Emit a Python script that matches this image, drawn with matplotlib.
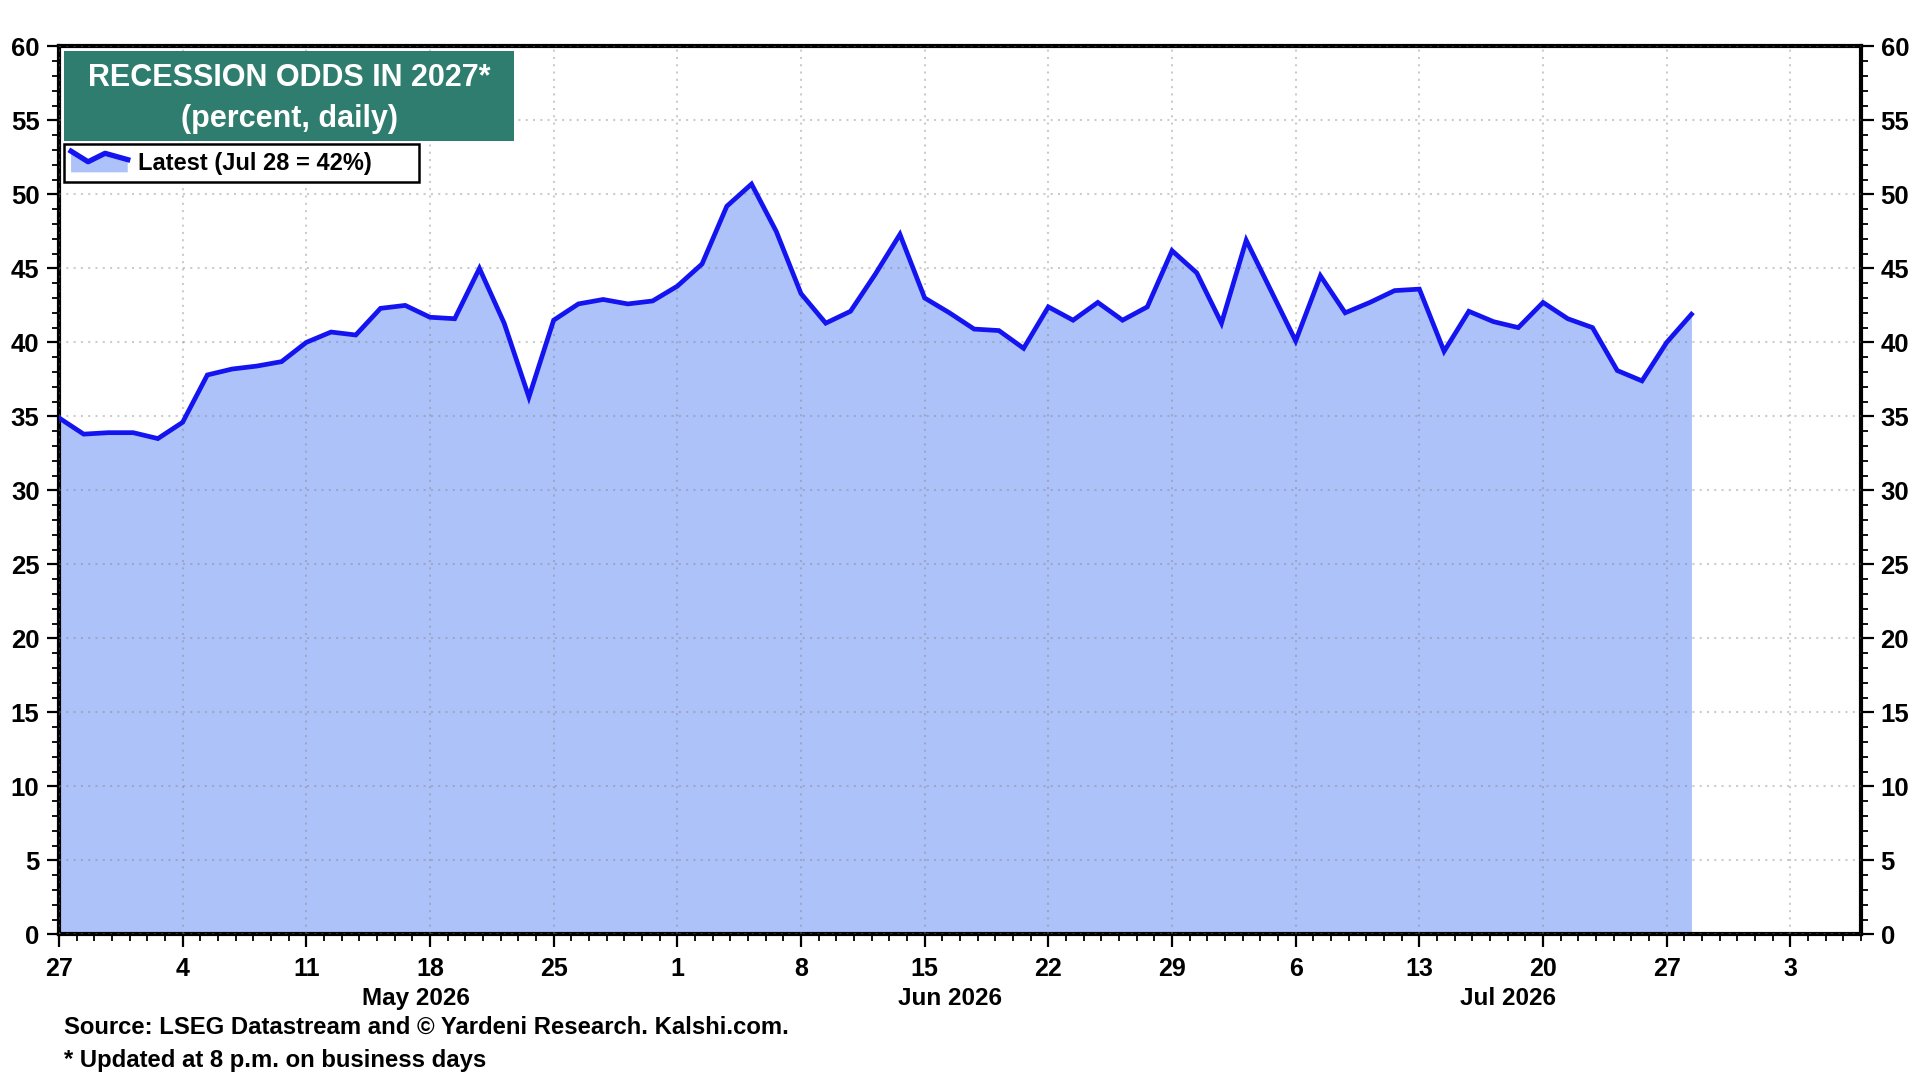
import numpy as np
import pandas as pd
import matplotlib
matplotlib.use('Agg')
import matplotlib.pyplot as plt
import matplotlib.dates as mdates
from matplotlib.legend_handler import HandlerBase
from matplotlib.lines import Line2D
from matplotlib.patches import Polygon, Rectangle
from datetime import datetime

# daily recession odds, business days Apr 27 - Jul 28 2026
days = pd.bdate_range('2026-04-27', '2026-07-28')
odds = [34.9, 33.8, 33.9, 33.9, 33.5,
        34.6, 37.8, 38.2, 38.4, 38.7,
        40.0, 40.7, 40.5, 42.3, 42.5,
        41.7, 41.6, 45.0, 41.3, 36.3,
        41.5, 42.6, 42.9, 42.6, 42.8,
        43.8, 45.3, 49.2, 50.7, 47.5,
        43.3, 41.3, 42.1, 44.6, 47.3,
        43.0, 42.0, 40.9, 40.8, 39.6,
        42.4, 41.5, 42.7, 41.5, 42.4,
        46.2, 44.7, 41.3, 46.9, 43.5,
        40.1, 44.5, 42.0, 42.7, 43.5,
        43.6, 39.4, 42.1, 41.4, 41.0,
        42.7, 41.6, 41.0, 38.1, 37.4,
        40.0, 41.9]
yticks = list(range(0, 61, 5))
months = ['May 2026', 'Jun 2026', 'Jul 2026']
month_pos = ['2026-05-17 05:00', '2026-06-16 10:00', '2026-07-18 00:00']
title = 'RECESSION ODDS IN 2027*\n(percent, daily)'
legend_label = 'Latest (Jul 28 = 42%)'
source = 'Source: LSEG Datastream and \u00a9 Yardeni Research. Kalshi.com.'
note = '* Updated at 8 p.m. on business days'

LINE = '#1414f0'
FILL = '#aec2fa'
TEAL = '#2f7d6e'
FONT = 'Liberation Sans'

plt.rcParams['font.family'] = FONT
plt.rcParams['font.weight'] = 'bold'

# each week of 5 business days is spread evenly over 7 calendar days
monday = days - pd.to_timedelta(days.weekday, unit='D')
x = mdates.date2num(monday.to_pydatetime()) + days.weekday * 7 / 5


class ZigZagHandler(HandlerBase):
    def create_artists(self, legend, orig, xd, yd, w, h, fontsize, trans):
        xs = np.array([0.0, 0.3, 0.6, 1.0]) * w - xd
        ys = np.array([1.0, 0.5, 0.9, 0.6]) * h - yd
        pts = list(zip(xs, ys)) + [(xs[-1], -yd), (xs[0], -yd)]
        poly = Polygon(pts, closed=True, fc=FILL, ec='none', transform=trans)
        ln = Line2D(xs, ys, color=LINE, lw=3.8, transform=trans)
        return [poly, ln]


fig = plt.figure(figsize=(19.2, 10.8), dpi=100)
ax = fig.add_axes([0.0307, 0.1349, 0.9386, 0.8221])

ax.fill_between(x, 0, odds, color=FILL, lw=0, zorder=1)
ax.plot(x, odds, color=LINE, lw=3.4, zorder=3, solid_joinstyle='miter')

ax.set_xlim(mdates.date2num(datetime(2026, 4, 27)), mdates.date2num(datetime(2026, 8, 7)))
ax.set_ylim(0, 60)
ax.set_yticks(yticks)
ax.yaxis.set_minor_locator(plt.MultipleLocator(1))
ax.xaxis.set_major_locator(mdates.WeekdayLocator(byweekday=mdates.MO))
ax.xaxis.set_minor_locator(mdates.DayLocator())
ax.xaxis.set_major_formatter(plt.FuncFormatter(lambda v, p: str(mdates.num2date(v).day)))

ax.tick_params(axis='y', which='both', left=True, right=True, labelleft=True, labelright=True,
               direction='out', labelsize=18.5, pad=5)
ax.tick_params(axis='x', which='both', direction='out', labelsize=18, pad=7)
ax.tick_params(which='major', length=9, width=1.6)
ax.tick_params(which='minor', length=5, width=1.3)
for s in ax.spines.values():
    s.set_linewidth(3)
    s.set_color('black')

ax.set_axisbelow(False)
ax.grid(True, which='major', color='gray', alpha=0.4, lw=1.5, ls=(0, (1, 2.5)))

for lab, pos in zip(months, month_pos):
    ax.text(mdates.date2num(pd.Timestamp(pos).to_pydatetime()), -0.0725, lab,
            transform=ax.get_xaxis_transform(), ha='center', va='center', fontsize=17.5)

# title box
ax.add_patch(Rectangle((0.0028, 0.8936), 0.2497, 0.1014, transform=ax.transAxes,
                       fc=TEAL, ec='none', zorder=5))
ax.text(0.1277, 0.9415, title, transform=ax.transAxes, ha='center', va='center',
        color='white', fontsize=22, linespacing=1.5, zorder=6)

leg = ax.legend([Line2D([], [])], [legend_label], handler_map={Line2D: ZigZagHandler()},
                loc='upper left', bbox_to_anchor=(0.0028, 0.850, 0.197, 0.040), mode='expand',
                borderaxespad=0, fancybox=False, framealpha=1, edgecolor='black', fontsize=17,
                handlelength=2.4, handleheight=1.0, borderpad=0.3, handletextpad=0.45)
leg.get_frame().set_linewidth(1.8)
leg.set_zorder(6)
for t in leg.get_texts():
    t.set_fontweight('bold')

fig.text(64 / 1920, 1 - 1027 / 1080, source, ha='left', va='center', fontsize=17.2)
fig.text(64 / 1920, 1 - 1060 / 1080, note, ha='left', va='center', fontsize=17.2)

fig.savefig('out.png', dpi=100)
